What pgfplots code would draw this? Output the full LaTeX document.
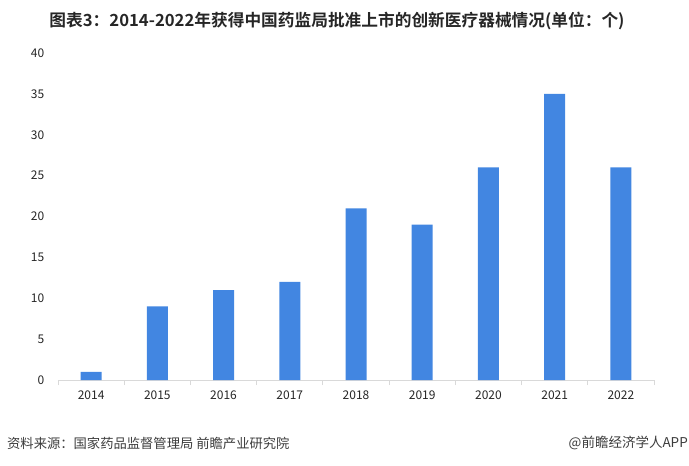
\documentclass[border=0pt]{standalone}
\usepackage{pgfplots}
\pgfplotsset{compat=1.18}
\usepackage{fontspec}
\setmainfont{Noto Sans CJK SC}
\newfontfamily\titlefont{Noto Sans CJK SC Bold}
\definecolor{barblue}{HTML}{4286E1}
\definecolor{axgray}{HTML}{D9D9D9}
\definecolor{txtgray}{HTML}{262626}
\begin{document}
\begin{tikzpicture}
\path[use as bounding box] (0,0) rectangle (689bp,-466bp);
\begin{axis}[
  at={(58bp,-380bp)}, anchor=south west,
  scale only axis, width=596bp, height=327bp,
  xmin=-0.5, xmax=8.5, ymin=0, ymax=40,
  xtick={0,...,8},
  xticklabels={2014,2015,2016,2017,2018,2019,2020,2021,2022},
  minor xtick={-0.5,0.5,...,8.5},
  ytick={0,5,...,40},
  axis x line*=bottom, axis y line*=left,
  x axis line style={draw=axgray, line width=0.8pt, -},
  y axis line style={draw=none},
  major x tick style={draw=none},
  minor x tick style={draw=axgray, line width=0.8pt},
  minor tick length=5bp,
  tick align=outside,
  ytick style={draw=none},
  ticklabel style={font=\fontsize{12bp}{14bp}\selectfont, text=txtgray},
  /pgf/number format/assume math mode=true,
  xticklabel style={yshift=-3bp},
  yticklabel style={xshift=-6bp},
  clip=false,
]
\addplot[ybar, bar width=21bp, fill=barblue, draw=none] coordinates {
 (0,1) (1,9) (2,11) (3,12) (4,21) (5,19) (6,26) (7,35) (8,26)};
\end{axis}
\node[font=\titlefont\fontsize{16.7bp}{19bp}\selectfont, text=black!85] at (337bp,-21bp)
  {图表3：2014-2022年获得中国药监局批准上市的创新医疗器械情况(单位：个)};
\node[anchor=west, font=\fontsize{13.3bp}{15bp}\selectfont, text=txtgray!90, inner sep=0pt] at (7bp,-443bp)
  {资料来源：国家药品监督管理局 前瞻产业研究院};
\node[anchor=east, font=\fontsize{13.5bp}{15bp}\selectfont, text=txtgray!90, inner sep=0pt] at (688bp,-443bp)
  {@前瞻经济学人APP};
\end{tikzpicture}
\end{document}
